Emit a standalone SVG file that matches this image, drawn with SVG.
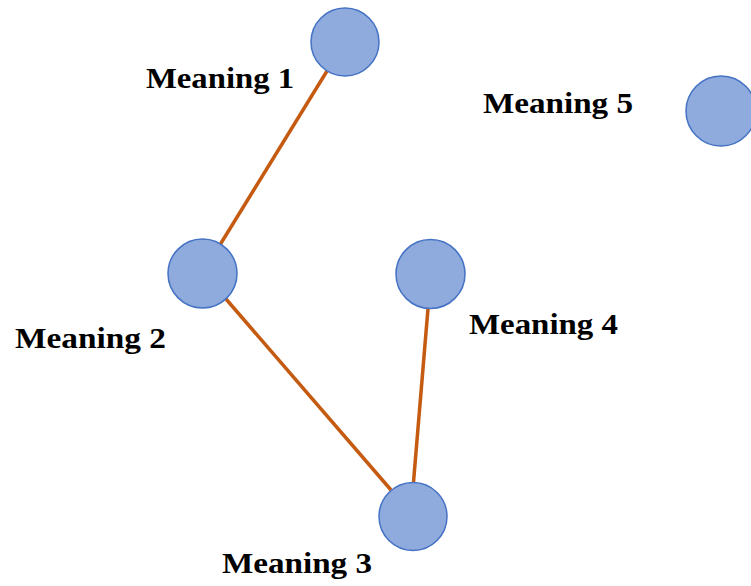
<svg xmlns="http://www.w3.org/2000/svg" width="751" height="586" viewBox="0 0 751 586">
  <style>
    .node { fill: #8FAADC; stroke: #4472C4; stroke-width: 1.5; }
    .edge { stroke: #C55A11; stroke-width: 3.5; fill: none; }
    .label { font-family: "Liberation Serif", "DejaVu Serif", serif; font-weight: bold; font-size: 30px; fill: #000; }
  </style>
  <rect width="751" height="586" fill="#FFFFFF"/>
  <g id="connectors">
    <line class="edge" x1="327" y1="71" x2="220.5" y2="244"/>
    <line class="edge" x1="226" y1="299" x2="391" y2="490"/>
    <line class="edge" x1="428" y1="308.5" x2="413.5" y2="482"/>
  </g>
  <g id="meaning-1">
    <circle class="node" cx="345" cy="42" r="34"/>
    <text class="label" x="146" y="88" textLength="148" lengthAdjust="spacingAndGlyphs">Meaning 1</text>
  </g>
  <g id="meaning-2">
    <circle class="node" cx="202.5" cy="273.5" r="34.5"/>
    <text class="label" x="15" y="348" textLength="151" lengthAdjust="spacingAndGlyphs">Meaning 2</text>
  </g>
  <g id="meaning-3">
    <circle class="node" cx="413" cy="516.5" r="34"/>
    <text class="label" x="222" y="573" textLength="150" lengthAdjust="spacingAndGlyphs">Meaning 3</text>
  </g>
  <g id="meaning-4">
    <circle class="node" cx="430.5" cy="274" r="34.5"/>
    <text class="label" x="469" y="334" textLength="149" lengthAdjust="spacingAndGlyphs">Meaning 4</text>
  </g>
  <g id="meaning-5">
    <circle class="node" cx="721" cy="111" r="35"/>
    <text class="label" x="483" y="113" textLength="150" lengthAdjust="spacingAndGlyphs">Meaning 5</text>
  </g>
</svg>
